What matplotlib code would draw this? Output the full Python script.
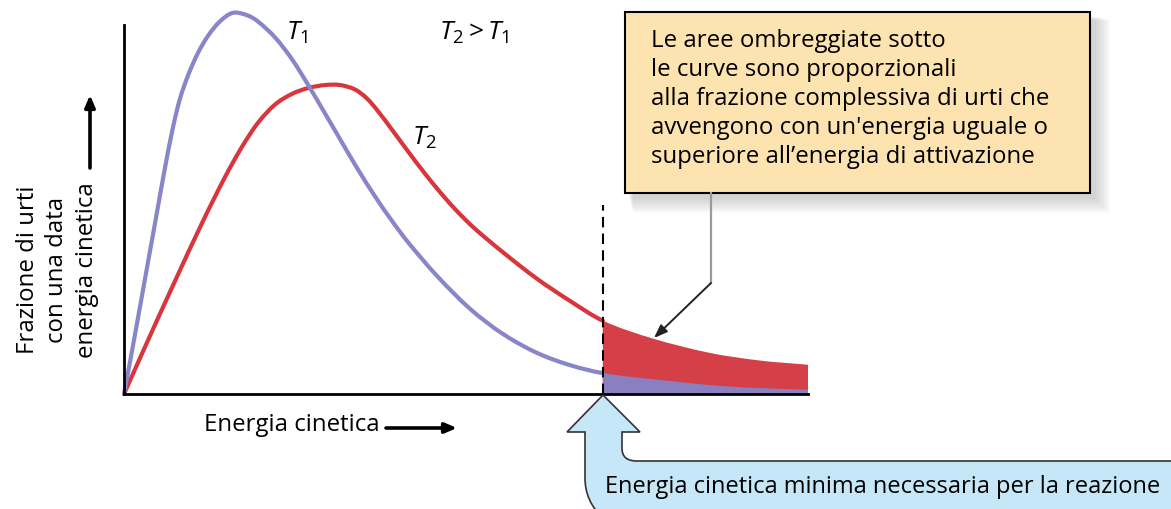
import matplotlib
matplotlib.use("Agg")
import matplotlib.pyplot as plt
from matplotlib.patches import Rectangle, PathPatch
from matplotlib.path import Path
import numpy as np

plt.rcParams['font.family'] = ['Open Sans', 'DejaVu Sans']
plt.rcParams['mathtext.fontset'] = 'custom'
plt.rcParams['mathtext.rm'] = 'Open Sans'
plt.rcParams['mathtext.it'] = 'Open Sans:italic'

# Distribution of collision energies at the lower temperature T1
energy_t1 = [0.0, 0.12, 0.29, 0.47, 0.60, 0.72, 0.82, 0.94, 1.08, 1.23, 1.40, 1.59,
             1.81, 1.96, 2.21, 2.46, 2.69, 2.94, 3.19, 3.42, 3.67, 3.92, 4.15, 4.58,
             5.06, 5.54, 6.04, 6.52, 7.00, 7.84, 8.82, 10.0]
frac_t1 = [0.0, 1.16, 2.86, 4.66, 5.96, 7.05, 7.78, 8.40, 8.97, 9.43, 9.80, 10.03,
           9.96, 9.80, 9.38, 8.80, 8.14, 7.38, 6.61, 5.91, 5.20, 4.55, 4.00, 3.10,
           2.24, 1.58, 1.08, 0.76, 0.55, 0.37, 0.20, 0.11]

# Distribution of collision energies at the higher temperature T2
energy_t2 = [0.0, 0.31, 0.75, 1.16, 1.48, 1.73, 1.96, 2.21, 2.46, 2.69, 2.94, 3.16,
             3.38, 3.55, 3.71, 3.92, 4.15, 4.40, 4.65, 4.88, 5.13, 5.54, 6.04, 6.52,
             7.00, 7.73, 8.57, 9.30, 10.0]
frac_t2 = [0.0, 1.25, 2.99, 4.57, 5.72, 6.52, 7.14, 7.62, 7.90, 8.05, 8.13, 8.13,
           8.01, 7.78, 7.45, 6.95, 6.39, 5.80, 5.25, 4.79, 4.35, 3.73, 3.03, 2.45,
           1.93, 1.46, 1.08, 0.88, 0.77]

activation_energy = 7.0

curve_labels = ["$T_1$", "$T_2$", "$T_2 > T_1$"]
y_label_lines = ["Frazione di urti", "con una data", "energia cinetica"]
x_label = "Energia cinetica"
note_lines = ["Le aree ombreggiate sotto",
              "le curve sono proporzionali",
              "alla frazione complessiva di urti che",
              "avvengono con un'energia uguale o",
              "superiore all\u2019energia di attivazione"]
threshold_label = "Energia cinetica minima necessaria per la reazione"

BLUE_LINE = '#8985c9'
RED_LINE = '#d8353d'
BLUE_FILL = '#8a7fbf'
RED_FILL = '#d53f47'


def hermite_segments(x, y, i_start, i_end):
    """Vertices/codes of a smooth cubic path through points i_start..i_end."""
    x = np.asarray(x, float)
    y = np.asarray(y, float)
    n = len(x)
    slopes = np.empty(n)
    slopes[0] = (y[1] - y[0]) / (x[1] - x[0])
    slopes[-1] = (y[-1] - y[-2]) / (x[-1] - x[-2])
    slopes[1:-1] = (y[2:] - y[:-2]) / (x[2:] - x[:-2])
    verts = [(x[i_start], y[i_start])]
    codes = [Path.MOVETO]
    for i in range(i_start, i_end):
        h = x[i + 1] - x[i]
        verts += [(x[i] + h / 3, y[i] + slopes[i] * h / 3),
                  (x[i + 1] - h / 3, y[i + 1] - slopes[i + 1] * h / 3),
                  (x[i + 1], y[i + 1])]
        codes += [Path.CURVE4] * 3
    return verts, codes


W, H = 1171, 509
fig = plt.figure(figsize=(W / 100, H / 100), dpi=100)

# ---- plotting area -------------------------------------------------------
ax_left, ax_right, ax_base = 124, 808, 394
px_per_unit_y = 38.0
ax = fig.add_axes([ax_left / W, (H - ax_base) / H, (ax_right - ax_left) / W, ax_base / H])
ax.set_xlim(0, 10)
ax.set_ylim(0, ax_base / px_per_unit_y)
ax.patch.set_alpha(0)
for s in ('top', 'right'):
    ax.spines[s].set_visible(False)
ax.spines['left'].set_bounds(0, (ax_base - 25) / px_per_unit_y)
ax.spines['bottom'].set_bounds(0, 10)
for s in ('left', 'bottom'):
    ax.spines[s].set_linewidth(2.0)
    ax.spines[s].set_color('black')
    ax.spines[s].set_zorder(6)
ax.set_xticks([])
ax.set_yticks([])

for xs, ys, line_c, fill_c, z in ((energy_t2, frac_t2, RED_LINE, RED_FILL, 2),
                                  (energy_t1, frac_t1, BLUE_LINE, BLUE_FILL, 3)):
    k = xs.index(activation_energy)
    # shaded tail beyond the activation energy
    v, c = hermite_segments(xs, ys, k, len(xs) - 1)
    v += [(xs[-1], 0.0), (xs[k], 0.0), (xs[k], ys[k])]
    c += [Path.LINETO, Path.LINETO, Path.CLOSEPOLY]
    ax.add_patch(PathPatch(Path(v, c), fc=fill_c, ec='none', zorder=z))
    # curve up to the activation energy
    v, c = hermite_segments(xs, ys, 0, k)
    ax.add_patch(PathPatch(Path(v, c), fill=False, ec=line_c, lw=3.0,
                           capstyle='round', joinstyle='round', zorder=z + 2,
                           clip_on=False))

ax.plot([activation_energy, activation_energy], [0, (ax_base - 205) / px_per_unit_y],
        color='black', lw=1.5, dashes=(5, 3), zorder=6)

# ---- annotation layer in pixel coordinates ------------------------------
ov = fig.add_axes([0, 0, 1, 1])
ov.set_xlim(0, W)
ov.set_ylim(H, 0)
ov.axis('off')
ov.patch.set_alpha(0)

fs = 17.3

# curve labels
ov.text(286, 33, curve_labels[0], fontsize=19, ha='left', va='center')
ov.text(412, 138, curve_labels[1], fontsize=19, ha='left', va='center')
ov.text(439, 33, curve_labels[2], fontsize=19, ha='left', va='center')

# y label with upward arrow
for xc, line in zip((28, 57, 87), y_label_lines):
    ov.text(xc, 270, line, fontsize=fs, rotation=90, ha='center', va='center')
ov.annotate('', xy=(90, 95), xytext=(90, 168),
            arrowprops=dict(arrowstyle='-|>,head_length=0.7,head_width=0.3',
                            color='black', lw=2.6, shrinkA=0, shrinkB=0))

# x label with right arrow
ov.text(204, 425, x_label, fontsize=fs, ha='left', va='center')
ov.annotate('', xy=(457, 428), xytext=(386, 428),
            arrowprops=dict(arrowstyle='-|>,head_length=0.7,head_width=0.3',
                            color='black', lw=2.6, shrinkA=0, shrinkB=0))

# note box with soft shadow
bx, by, bw, bh = 625, 12, 465, 181
for i in range(10, 0, -1):
    ov.add_patch(Rectangle((bx + 4 + i * 0.4, by + 4 + i * 0.4), bw + i * 1.2, bh + i * 1.2,
                           fc='#7a7a7a', ec='none', alpha=0.035, zorder=1))
ov.add_patch(Rectangle((bx, by), bw, bh, fc='#fde3b0', ec='black', lw=1.5, zorder=2))
for yb, line in zip((47, 76, 105, 134, 163), note_lines):
    ov.text(651, yb, line, fontsize=fs, ha='left', va='baseline', zorder=3)

# connector from the note to the shaded tail
ov.plot([711, 711], [bh + by, 283], color='#9a9a9a', lw=1.6, zorder=3)
ov.annotate('', xy=(654, 338), xytext=(711, 283),
            arrowprops=dict(arrowstyle='-|>,head_length=0.8,head_width=0.3',
                            color='#222222', lw=1.4, shrinkA=0, shrinkB=0), zorder=3)

# callout arrow pointing at the activation energy
verts = [(603, 395), (640, 432), (622, 432), (622, 448),
         (622, 457), (627, 461), (637, 461),
         (1185, 461), (1185, 520), (606, 520),
         (590, 508), (585, 492), (585, 478),
         (585, 432), (567, 432), (603, 395)]
codes = [Path.MOVETO, Path.LINETO, Path.LINETO, Path.LINETO,
         Path.CURVE4, Path.CURVE4, Path.CURVE4,
         Path.LINETO, Path.LINETO, Path.LINETO,
         Path.CURVE4, Path.CURVE4, Path.CURVE4,
         Path.LINETO, Path.LINETO, Path.CLOSEPOLY]
ov.add_patch(PathPatch(Path(verts, codes), fc='#c6e7f7', ec='#333333', lw=1.2, zorder=2))
ov.text(605, 487, threshold_label, fontsize=17.0, ha='left', va='center', zorder=3)

fig.savefig('out.png', dpi=100)
